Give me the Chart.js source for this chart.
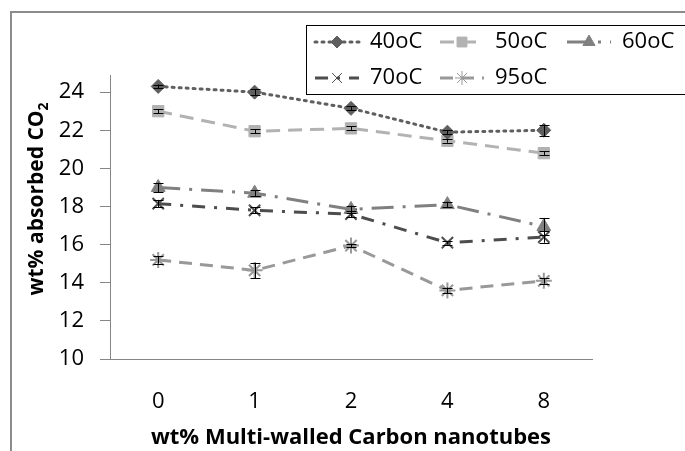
<!DOCTYPE html>
<html lang="en">
<head>
<meta charset="UTF-8">
<title>Absorbed CO2 vs MWCNT</title>
<script src="https://cdn.jsdelivr.net/npm/chart.js"></script>
<style>
    html, body { margin: 0; padding: 0; background: #fff; }
    #wrap { width: 685px; height: 451px; }
</style>
</head>
<body>
<div id="wrap"><canvas id="co2Chart" width="685" height="451"></canvas></div>
<script>
    // data
    const categories = ['0', '1', '2', '4', '8'];
    const seriesNames = ['40oC', '50oC', '60oC', '70oC', '95oC'];
    const t40 = [24.3, 24.0, 23.15, 21.9, 22.0];
    const t50 = [23.0, 21.95, 22.1, 21.45, 20.8];
    const t60 = [19.0, 18.7, 17.85, 18.1, 16.95];
    const t70 = [18.15, 17.8, 17.6, 16.1, 16.4];
    const t95 = [15.2, 14.65, 15.95, 13.6, 14.1];
    const err40 = [0.1, 0.15, 0.1, 0.1, 0.3];
    const err50 = [0.1, 0.1, 0.1, 0.1, 0.1];
    const err60 = [0.25, 0.15, 0.2, 0.15, 0.45];
    const err70 = [0.2, 0.15, 0.15, 0.1, 0.3];
    const err95 = [0.2, 0.4, 0.1, 0.15, 0.15];
    const yTicks = [10, 12, 14, 16, 18, 20, 22, 24];

    const FONT = '"Open Sans", Lato, sans-serif';

    const styles = [
        { color: '#5f5f5f', dash: [2, 5], point: 'rectRot', r: 7 },
        { color: '#b2b2b2', dash: [14, 8], point: 'rect', r: 8 },
        { color: '#808080', dash: [22, 9, 3, 9], point: 'triangle', r: 8 },
        { color: '#4d4d4d', dash: [13, 9, 3, 9], point: 'crossRot', r: 8 },
        { color: '#999999', dash: [13, 8], point: 'star', r: 8 }
    ];
    const values = [t40, t50, t60, t70, t95];
    const errs = [err40, err50, err60, err70, err95];

    const datasets = seriesNames.map((name, i) => {
        const s = styles[i];
        const cross = s.point === 'crossRot' || s.point === 'star';
        return {
            label: name,
            data: values[i],
            errors: errs[i],
            borderColor: s.color,
            backgroundColor: s.color,
            borderWidth: 3,
            borderDash: s.dash,
            borderCapStyle: s.point === 'rectRot' ? 'round' : 'butt',
            pointStyle: s.point,
            pointRadius: s.r,
            pointBorderWidth: cross ? 2 : 1,
            pointBorderColor: s.color,
            pointBackgroundColor: s.color,
            tension: 0,
            fill: false
        };
    });

    // frame, error bars, legend and y title
    const decor = {
        id: 'decor',
        beforeDraw(chart) {
            const ctx = chart.ctx;
            ctx.save();
            ctx.strokeStyle = '#8c8c8c';
            ctx.lineWidth = 2;
            ctx.beginPath();
            ctx.moveTo(11, 451);
            ctx.lineTo(11, 12);
            ctx.lineTo(685, 12);
            ctx.stroke();
            ctx.restore();
        },
        afterDatasetsDraw(chart) {
            const ctx = chart.ctx;
            const x = chart.scales.x, y = chart.scales.y;
            ctx.save();
            ctx.strokeStyle = '#000';
            ctx.lineWidth = 1;
            chart.data.datasets.forEach(ds => {
                ds.data.forEach((v, j) => {
                    const e = ds.errors[j];
                    const px = Math.round(x.getPixelForValue(j)) + 0.5;
                    const top = y.getPixelForValue(v + e), bot = y.getPixelForValue(v - e);
                    ctx.beginPath();
                    ctx.moveTo(px, top); ctx.lineTo(px, bot);
                    ctx.moveTo(px - 5, Math.round(top) + 0.5); ctx.lineTo(px + 5, Math.round(top) + 0.5);
                    ctx.moveTo(px - 5, Math.round(bot) + 0.5); ctx.lineTo(px + 5, Math.round(bot) + 0.5);
                    ctx.stroke();
                });
            });
            ctx.restore();
        },
        afterDraw(chart) {
            const ctx = chart.ctx;
            ctx.save();
            // legend box
            ctx.fillStyle = '#fff';
            ctx.fillRect(307, 25, 380, 69);
            ctx.strokeStyle = '#000';
            ctx.lineWidth = 1;
            ctx.strokeRect(306.5, 25.5, 390, 69);
            const slots = [[315, 42], [440, 42], [567, 42], [315, 78], [440, 78]];
            chart.data.datasets.forEach((ds, i) => {
                const [sx, sy] = slots[i];
                ctx.save();
                ctx.strokeStyle = ds.borderColor;
                ctx.lineWidth = 3;
                ctx.lineCap = ds.borderCapStyle;
                ctx.setLineDash(ds.borderDash);
                ctx.beginPath();
                ctx.moveTo(sx, sy); ctx.lineTo(sx + 44, sy);
                ctx.stroke();
                ctx.restore();
                ctx.fillStyle = ds.pointBackgroundColor;
                ctx.strokeStyle = ds.pointBorderColor;
                Chart.helpers.drawPoint(ctx, {
                    pointStyle: ds.pointStyle,
                    radius: ds.pointRadius - 1,
                    rotation: 0,
                    borderWidth: ds.pointBorderWidth
                }, sx + 22, sy);
                ctx.fillStyle = '#000';
                ctx.font = '22px ' + FONT;
                ctx.textBaseline = 'middle';
                ctx.textAlign = 'left';
                ctx.fillText(ds.label, sx + 55, sy);
            });
            // y title with subscript
            ctx.translate(37, 199);
            ctx.rotate(-Math.PI / 2);
            ctx.fillStyle = '#000';
            ctx.textBaseline = 'middle';
            const main = 'wt% absorbed CO';
            ctx.font = 'bold 14px ' + FONT;
            const subW = ctx.measureText('2').width;
            ctx.font = 'bold 21px ' + FONT;
            const w = ctx.measureText(main).width + subW;
            ctx.textAlign = 'left';
            ctx.fillText(main, -w / 2, 0);
            ctx.font = 'bold 14px ' + FONT;
            ctx.fillText('2', -w / 2 + w - subW, 7);
            ctx.restore();
        }
    };

    new Chart(document.getElementById('co2Chart'), {
        type: 'line',
        data: { labels: categories, datasets: datasets },
        options: {
            responsive: false,
            animation: false,
            layout: { padding: { left: 0, right: 93, top: 75, bottom: 0 } },
            plugins: {
                legend: { display: false },
                tooltip: { enabled: false }
            },
            scales: {
                x: {
                    offset: true,
                    afterFit: s => { s.height = 92; },
                    grid: { display: false },
                    border: { display: true, color: '#868686', width: 1 },
                    ticks: { color: '#000', font: { family: FONT, size: 22 }, padding: 22 },
                    title: {
                        display: true,
                        text: 'wt% Multi-walled Carbon nanotubes',
                        color: '#000',
                        font: { family: FONT, size: 22, weight: 'bold' },
                        padding: { top: 2, bottom: 0 }
                    }
                },
                y: {
                    min: 10,
                    max: 24.9,
                    afterFit: s => { s.width = 110; },
                    afterBuildTicks: s => { s.ticks = yTicks.map(v => ({ value: v })); },
                    grid: { drawOnChartArea: false, drawTicks: true, tickLength: 10, color: '#868686' },
                    border: { display: true, color: '#868686', width: 1 },
                    ticks: { color: '#000', font: { family: FONT, size: 22 }, padding: 16 }
                }
            }
        },
        plugins: [decor]
    });
</script>
</body>
</html>
